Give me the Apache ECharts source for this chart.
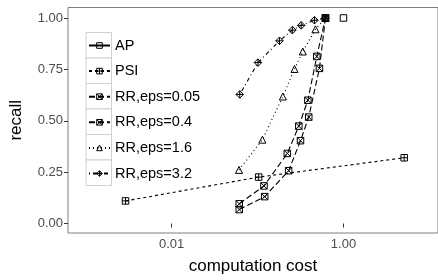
<!DOCTYPE html>
<html>
<head>
<meta charset="utf-8">
<script src="https://cdn.jsdelivr.net/npm/echarts@6/dist/echarts.min.js"></script>
<style>
  html, body { margin: 0; padding: 0; background: #fff; }
  #chart { width: 438px; height: 280px; }
</style>
</head>
<body>
<div id="chart"></div>
<script>
// values (cost is on a log scale)
const seriesNames = ['AP', 'PSI', 'RR,eps=0.05', 'RR,eps=0.4', 'RR,eps=1.6', 'RR,eps=3.2'];

const apCost = [1.0];
const apRecall = [1.0];
const psiCost = [0.0029, 0.103, 5.09];
const psiRecall = [0.110, 0.226, 0.320];
const rr005Cost = [0.0612, 0.121, 0.230, 0.316, 0.394, 0.525, 0.617];
const rr005Recall = [0.068, 0.131, 0.257, 0.403, 0.518, 0.755, 1.0];
const rr04Cost = [0.0612, 0.1186, 0.222, 0.302, 0.385, 0.489, 0.617];
const rr04Recall = [0.096, 0.183, 0.341, 0.474, 0.600, 0.813, 1.0];
const rr16Cost = [0.0608, 0.1138, 0.197, 0.269, 0.336, 0.472, 0.617];
const rr16Recall = [0.261, 0.408, 0.618, 0.752, 0.837, 0.945, 1.0];
const rr32Cost = [0.0620, 0.101, 0.180, 0.254, 0.322, 0.459, 0.617];
const rr32Recall = [0.628, 0.783, 0.889, 0.941, 0.964, 0.989, 1.0];

const xTicks = [0.01, 1];
const yTicks = [0, 0.25, 0.5, 0.75, 1];

// marker shapes (ggplot-like hollow shapes)
const SQUARE = 'path://M0,0H10V10H0Z';
const SQUARE_PLUS = 'path://M0,0H10V10H0Z M5,0V10 M0,5H10';
const SQUARE_CROSS = 'path://M0,0H10V10H0Z M0,0L10,10 M10,0L0,10';
const TRIANGLE = 'path://M5,0L10,9L0,9Z';
const DIAMOND_PLUS = 'path://M5,0L10,5L5,10L0,5Z M5,0V10 M0,5H10';

const hollow = { color: 'rgba(0,0,0,0)', borderColor: '#000', borderWidth: 1 };

function pairs(xs, ys) {
  return xs.map((x, i) => [x, ys[i]]);
}

function makeSeries(name, xs, ys, symbol, dash, size) {
  return {
    name: name,
    type: 'line',
    data: pairs(xs, ys),
    symbol: symbol,
    symbolSize: size || 6.5,
    lineStyle: { color: '#000', width: 1.1, type: dash },
    itemStyle: hollow,
    emphasis: { disabled: true },
    z: 3
  };
}

const chart = echarts.init(document.getElementById('chart'));

// grey key boxes behind the legend entries
const keyBoxes = seriesNames.map((n, i) => ({
  type: 'rect',
  shape: { x: 86, y: 32.5 + i * 25.5, width: 25.5, height: 25.5 },
  style: { fill: '#fff', stroke: '#d0d0d0', lineWidth: 1 },
  z: 1
}));

chart.setOption({
  animation: false,
  textStyle: { fontFamily: 'Liberation Sans, Arial, sans-serif' },
  grid: {
    left: 68, right: -1, top: 7.5, bottom: 41,
    show: true, borderColor: '#7f7f7f', borderWidth: 1
  },
  graphic: keyBoxes,
  legend: {
    data: seriesNames,
    orient: 'vertical',
    left: 88,
    top: 37.5,
    padding: 0,
    itemWidth: 21,
    itemHeight: 7,
    itemGap: 9.6,
    itemStyle: hollow,
    textStyle: { fontSize: 14.5, lineHeight: 16, color: '#000' },
    z: 5
  },
  xAxis: {
    type: 'log',
    logBase: 10,
    min: 0.000621,
    max: 12.6,
    name: 'computation cost',
    nameLocation: 'middle',
    nameGap: 25,
    nameTextStyle: { fontSize: 17, color: '#000' },
    axisLine: { show: false },
    splitLine: { show: false },
    axisTick: { show: true, length: 4, lineStyle: { color: '#333' }, customValues: xTicks },
    axisLabel: {
      customValues: xTicks,
      fontSize: 13,
      color: '#4d4d4d',
      margin: 5,
      formatter: v => (v < 0.1 ? '0.01' : '1.00')
    }
  },
  yAxis: {
    type: 'value',
    min: -0.046,
    max: 1.051,
    name: 'recall',
    nameLocation: 'middle',
    nameGap: 43,
    nameTextStyle: { fontSize: 17, color: '#000' },
    axisLine: { show: false },
    splitLine: { show: false },
    axisTick: { show: true, length: 4, lineStyle: { color: '#333' }, customValues: yTicks },
    axisLabel: {
      customValues: yTicks,
      fontSize: 13,
      color: '#4d4d4d',
      margin: 5,
      formatter: v => v.toFixed(2)
    }
  },
  series: [
    makeSeries('AP', apCost, apRecall, SQUARE, 'solid'),
    makeSeries('PSI', psiCost, psiRecall, SQUARE_PLUS, [3, 3]),
    makeSeries('RR,eps=0.05', rr005Cost, rr005Recall, SQUARE_CROSS, [6, 3]),
    makeSeries('RR,eps=0.4', rr04Cost, rr04Recall, SQUARE_CROSS, [6, 3]),
    makeSeries('RR,eps=1.6', rr16Cost, rr16Recall, TRIANGLE, [1, 3], 7),
    makeSeries('RR,eps=3.2', rr32Cost, rr32Recall, DIAMOND_PLUS, [1, 3, 4, 3], 7.5)
  ]
});
</script>
</body>
</html>
